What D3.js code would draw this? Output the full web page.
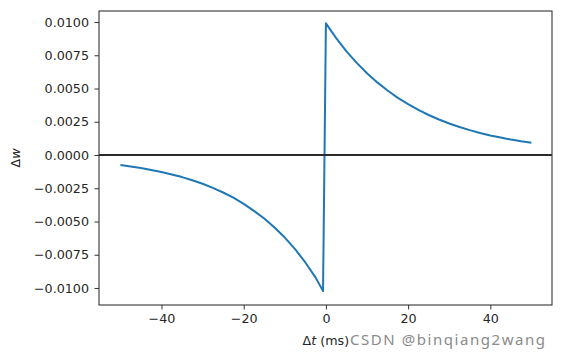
<!DOCTYPE html>
<html>
<head>
<meta charset="utf-8">
<script src="https://cdn.jsdelivr.net/npm/d3@7"></script>
<style>
  body { margin: 0; background: #fff; }
  svg { display: block; }
  .tick text { font-family: "DejaVu Sans", sans-serif; font-size: 12.7px; fill: #262626; }
</style>
</head>
<body>
<div class="chart"></div>
<script>
// STDP window: dt (ms) and dw
var dtNeg = [-50, -47.5, -45, -42.5, -40, -37.5, -35, -32.5, -30, -27.5, -25, -22.5, -20, -17.5, -15, -12.5, -10, -7.5, -5, -2.5, -0.7]
var dwNeg = [-0.00075, -0.00086, -0.00098, -0.00112, -0.00128, -0.00146, -0.00166, -0.00190, -0.00216, -0.00247, -0.00282, -0.00321, -0.00368, -0.00420, -0.00478, -0.00545, -0.00621, -0.00708, -0.00808, -0.00922, -0.01023]
var dtPos = [0, 2.5, 5, 7.5, 10, 12.5, 15, 17.5, 20, 22.5, 25, 27.5, 30, 32.5, 35, 37.5, 40, 42.5, 45, 47.5, 50]
var dwPos = [0.00990, 0.00879, 0.00780, 0.00693, 0.00615, 0.00546, 0.00485, 0.00430, 0.00382, 0.00339, 0.00301, 0.00267, 0.00237, 0.00211, 0.00187, 0.00166, 0.00147, 0.00131, 0.00116, 0.00103, 0.00092]
var xTicks = [-40, -20, 0, 20, 40]
var yTicks = [-0.01, -0.0075, -0.005, -0.0025, 0, 0.0025, 0.005, 0.0075, 0.01]

var margin = { top: 11, right: 9, bottom: 54, left: 99 },
    width = 561 - margin.left - margin.right,
    height = 359 - margin.top - margin.bottom;

var svg = d3.select(".chart")
    .append("svg")
    .attr("width", 561)
    .attr("height", 359)
    .append("g")
    .attr("transform", "translate(" + margin.left + "," + margin.top + ")");

var x = d3.scaleLinear()
    .domain([-55.2, 55])
    .range([0, width])

var y = d3.scaleLinear()
    .domain([-0.01128, 0.01083])
    .range([height, 0])

// the curve, one array of points
var pts = dtNeg.map(function (d, i) { return [d, dwNeg[i]] })
    .concat(dtPos.map(function (d, i) { return [d, dwPos[i]] }))

var line = d3.line()
    .x(function (d) { return x(d[0]) })
    .y(function (d) { return y(d[1]) })

svg.append("path")
    .datum(pts)
    .attr("d", line)
    .attr("fill", "none")
    .attr("stroke", "#1f77b4")
    .attr("stroke-width", 2)
    .attr("stroke-linejoin", "round")

// zero line
svg.append("line")
    .attr("x1", 0)
    .attr("x2", width)
    .attr("y1", y(0))
    .attr("y2", y(0))
    .attr("stroke", "#2b2b2b")
    .attr("stroke-width", 2)

// axes
svg.append("g")
    .attr("transform", "translate(0," + height + ")")
    .call(d3.axisBottom(x).tickValues(xTicks).tickSize(4.5).tickPadding(4.5)
        .tickFormat(function (d) { return d < 0 ? "\u2212" + Math.abs(d) : d }))
    .call(g => g.select(".domain").remove())
    .call(g => g.selectAll(".tick line").attr("stroke", "#333").attr("stroke-width", 1))

svg.append("g")
    .call(d3.axisLeft(y).tickValues(yTicks).tickSize(4.5).tickPadding(5.5)
        .tickFormat(function (d) {
            var s = Math.abs(d).toFixed(4)
            return d < 0 ? "\u2212" + s : s
        }))
    .call(g => g.select(".domain").remove())
    .call(g => g.selectAll(".tick line").attr("stroke", "#333").attr("stroke-width", 1))

// frame
svg.append("rect")
    .attr("x", 0)
    .attr("y", 0)
    .attr("width", width)
    .attr("height", height)
    .attr("fill", "none")
    .attr("stroke", "#333")
    .attr("stroke-width", 1.1)

// labels
svg.append("text")
    .attr("transform", "translate(-79," + (height / 2) + ") rotate(-90)")
    .attr("text-anchor", "middle")
    .style("font-family", "DejaVu Sans")
    .style("font-size", "12.7px")
    .style("fill", "#262626")
    .html("\u0394<tspan font-style='italic'>w</tspan>")

svg.append("text")
    .attr("x", x(0))
    .attr("y", height + 40)
    .attr("text-anchor", "middle")
    .style("font-family", "DejaVu Sans")
    .style("font-size", "12.7px")
    .style("fill", "#262626")
    .html("\u0394<tspan font-style='italic'>t</tspan> (ms)")

// watermark
d3.select("svg").append("text")
    .attr("x", 350)
    .attr("y", 345)
    .attr("textLength", 195)
    .style("font-family", "Noto Sans")
    .style("font-size", "15px")
    .style("fill", "#8a8a8a")
    .text("CSDN @binqiang2wang")
</script>
</body>
</html>
